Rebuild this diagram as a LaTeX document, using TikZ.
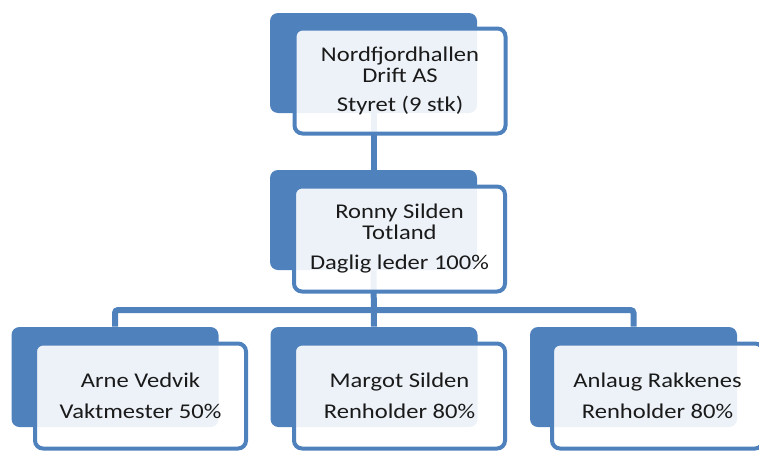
\documentclass[tikz,border=0pt]{standalone}
\usepackage{fontspec}
\setmainfont{Carlito}[FakeStretch=1.17]
\usepackage{tikz}
\usetikzlibrary{positioning}

\definecolor{ofblue}{HTML}{4F81BD}
\definecolor{oftext}{HTML}{1A1A1A}

\begin{document}
\begin{tikzpicture}[x=1pt, y=-1pt, semithick,
  back/.style={rectangle, rounded corners=8pt, fill=ofblue, minimum width=207pt, minimum height=100pt, inner sep=0pt},
  front/.style={rectangle, rounded corners=8pt, draw=ofblue, line width=4pt, fill=white, fill opacity=0.9, text opacity=1,
    minimum width=211pt, minimum height=105pt, align=center, text=oftext, font=\fontsize{21}{21}\selectfont},
  link/.style={draw=ofblue, line width=6pt, rounded corners=3pt}]
\useasboundingbox (0,0) rectangle (759,450);

% blue cards behind
\node[back] (b1) at (373.5,63) {};
\node[back] (b2) at (373.5,220) {};
\node[back] (b3) at (115,377) {};
\node[back] (b4) at (374,377) {};
\node[back] (b5) at (633.5,377) {};

% lines
\coordinate (bus) at (374,310);
\draw[link] (b1.south) -- (b2.north);
\draw[link] (b2.south) -- (b4.north);
\draw[link] (b3.north) |- (bus) -| (b5.north);

% white cards
\node[front] (f1) at (400,81) {Nordfjordhallen\\Drift AS\\[8pt]Styret (9 stk)};
\node[front] (f2) at (399.5,239) {Ronny Silden\\Totland\\[9pt]Daglig leder 100\%};
\node[front] (f3) at (140.5,396) {Arne Vedvik\\[10pt]Vaktmester 50\%};
\node[front] (f4) at (399.5,396) {Margot Silden\\[10pt]Renholder 80\%};
\node[front] (f5) at (657.5,396) {Anlaug Rakkenes\\[10pt]Renholder 80\%};
\end{tikzpicture}
\end{document}
